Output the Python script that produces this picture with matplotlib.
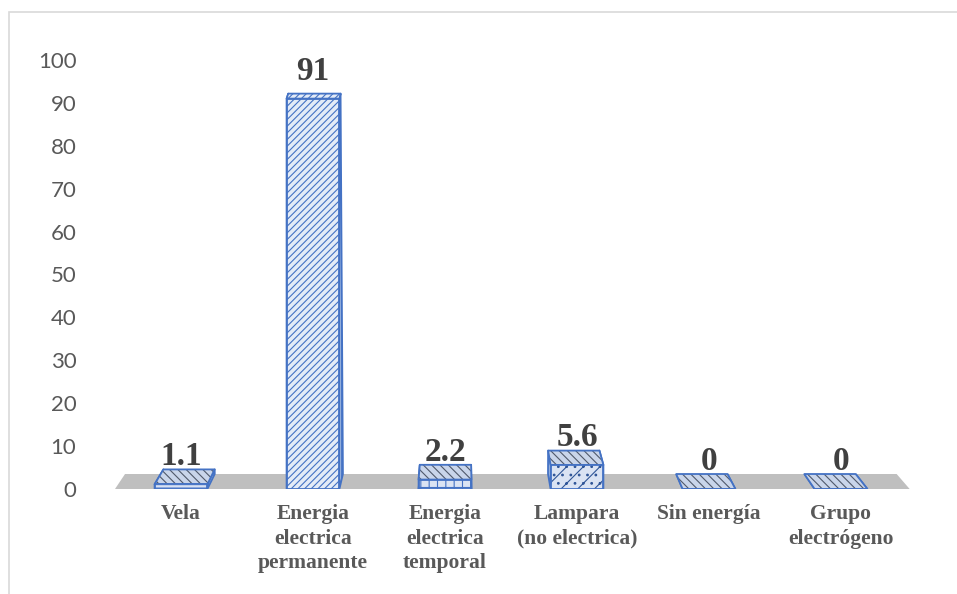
import matplotlib
matplotlib.use("Agg")

import matplotlib.pyplot as plt
from matplotlib.patches import Polygon, Rectangle

categories = ["Vela", "Energia\nelectrica\npermanente", "Energia\nelectrica\ntemporal",
              "Lampara\n(no electrica)", "Sin energía", "Grupo\nelectrógeno"]
values = [1.1, 91, 2.2, 5.6, 0, 0]
value_labels = ["1.1", "91", "2.2", "5.6", "0", "0"]
yticks = [0, 10, 20, 30, 40, 50, 60, 70, 80, 90, 100]

# fill / hatch per bar: front face and top face
front_style = [("#8faadc", "#ffffff", "---"),
               ("#e3ebf7", "#4472c4", "/////"),
               ("#dae3f3", "#4472c4", "++"),
               ("#dae3f3", "#2f5597", "..//"),
               ("#dae3f3", "#4472c4", ""),
               ("#dae3f3", "#4472c4", "")]
top_style = [("#c9d5ea", "#50596b", "\\\\\\\\"),
             ("#e3ebf7", "#4472c4", "/////"),
             ("#c9d5ea", "#50596b", "\\\\\\\\"),
             ("#c9d5ea", "#50596b", "\\\\\\\\"),
             ("#c9d5ea", "#50596b", "\\\\\\\\"),
             ("#c9d5ea", "#50596b", "\\\\\\\\")]
EDGE = "#4472c4"

plt.rcParams["hatch.linewidth"] = 0.8

W, H = 957, 594
fig = plt.figure(figsize=(W / 100, H / 100), dpi=100)
left, right, bottom, top = 100, 925, 489, 60   # plot area in pixels
ax = fig.add_axes([left / W, 1 - bottom / H, (right - left) / W, (bottom - top) / H])

step, x0 = 132, 181          # pixels between categories, first category centre
ax.set_xlim((left - x0) / step, (right - x0) / step)
ax.set_ylim(0, 100)
sy = (bottom - top) / 100.0  # pixels per unit on y

# simple perspective: things further back shift towards a vanishing point
vp = (461 - x0) / step
floor_depth = 15.0


def depth(v):
    return floor_depth - 0.11 * v


def back(x, y, d):
    return (x + (vp - x) * d * 0.00193, y + d / sy)


def face(pts, fc, hc, hatch, z):
    ax.add_patch(Polygon(pts, closed=True, facecolor=fc, edgecolor=hc,
                         hatch=hatch, linewidth=0, zorder=z))
    ax.add_patch(Polygon(pts, closed=True, fill=False, edgecolor=EDGE,
                         linewidth=1.3, joinstyle="round", zorder=z + 0.5))


n = len(values)
xs = list(range(n))

# grey floor
fl, fr = -0.5, n - 0.48
ax.add_patch(Polygon([(fl, 0), (fr, 0), back(fr, 0, floor_depth), back(fl, 0, floor_depth)],
                     closed=True, facecolor="#bfbfbf", edgecolor="none", zorder=1))

bw = 0.4
for i, v in enumerate(values):
    xl, xr = i - bw / 2, i + bw / 2
    d = depth(v)
    for xe in (xl, xr):
        side = [(xe, 0), (xe, v), back(xe, v, d), back(xe, 0, floor_depth)]
        face(side, "#b4c7e7", "#4472c4", "|||", 2)
    fc, hc, hatch = top_style[i]
    face([(xl, v), (xr, v), back(xr, v, d), back(xl, v, d)], fc, hc, hatch, 3)

# front faces
fcs = [s[0] for s in front_style]
bars = ax.bar(xs, values, width=bw, color=fcs, linewidth=0, zorder=4)
for b, (fc, hc, hatch) in zip(bars, front_style):
    b.set_edgecolor(hc)
    b.set_hatch(hatch)
ax.bar(xs, values, width=bw, fill=False, edgecolor=EDGE, linewidth=1.3, zorder=4.5)

for i, v in enumerate(values):
    ax.annotate(value_labels[i], (i, v), xytext=(0, 13.7), textcoords="offset points",
                ha="center", va="baseline", fontsize=24, fontweight="bold",
                family="Liberation Serif", color="#404040", zorder=6,
                annotation_clip=False)

ax.set_yticks(yticks)
ax.set_yticklabels([str(t) for t in yticks], family="Lato", fontsize=16, color="#595959")
ax.set_xticks(xs)
ax.set_xticklabels(categories, family="Liberation Serif", fontweight="bold",
                   fontsize=15.5, color="#595959", linespacing=1.3)
ax.tick_params(axis="y", length=0, pad=17)
ax.tick_params(axis="x", length=0, pad=11)
for s in ax.spines.values():
    s.set_visible(False)
ax.patch.set_alpha(0)

# chart border
fig.add_artist(Rectangle((9 / W, -0.1), 1.2, 1 - 12 / H + 0.1, transform=fig.transFigure,
                         fill=False, edgecolor="#d9d9d9", linewidth=1.2))

fig.savefig("out.png", dpi=100)
